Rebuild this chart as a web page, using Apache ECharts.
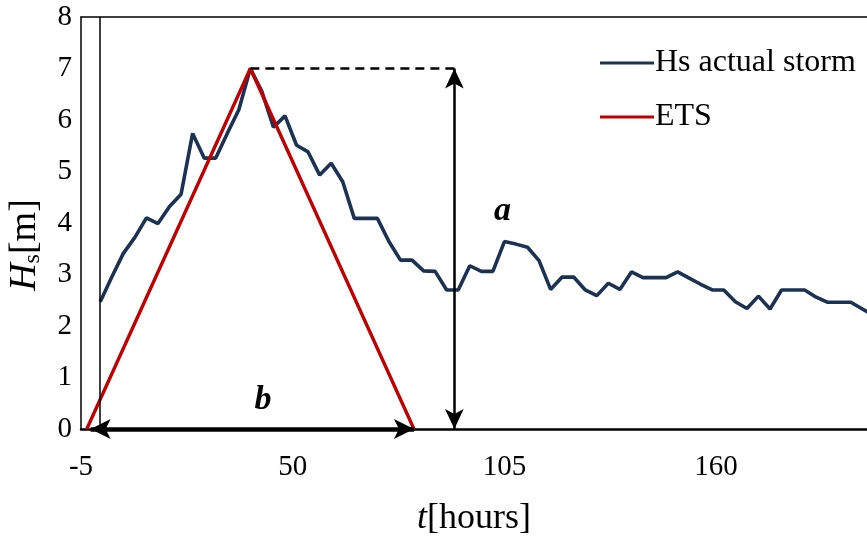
<!DOCTYPE html>
<html>
<head>
<meta charset="utf-8">
<script src="https://cdn.jsdelivr.net/npm/echarts@6/dist/echarts.min.js"></script>
<style>html,body{margin:0;padding:0;background:#fff}#c{width:867px;height:541px}</style>
</head>
<body>
<div id="c"></div>
<script>
// time in hours (3-hourly record)
const stormHours = [0,3,6,9,12,15,18,21,24,27,30,33,36,39,42,45,48,51,54,57,60,63,66,69,72,75,78,81,84,87,90,93,96,99,102,105,108,111,114,117,120,123,126,129,132,135,138,141,144,147,150,153,156,159,162,165,168,171,174,177,180,183,186,189,192,195,198,201];
const stormHs = [2.47,2.95,3.41,3.72,4.10,3.99,4.32,4.56,5.74,5.26,5.26,5.74,6.20,7.00,6.55,5.86,6.08,5.51,5.38,4.93,5.16,4.80,4.09,4.09,4.09,3.64,3.28,3.28,3.07,3.06,2.70,2.70,3.17,3.06,3.06,3.64,3.59,3.53,3.27,2.71,2.95,2.95,2.70,2.59,2.83,2.71,3.05,2.94,2.94,2.94,3.05,2.93,2.81,2.70,2.70,2.47,2.34,2.58,2.33,2.70,2.70,2.70,2.56,2.46,2.46,2.46,2.33,2.20];
const etsHours = [-3.5,39,81.5];
const etsHs = [0,7,0];
const xTickValues = [-5,50,105,160];
const yTicks = [0,1,2,3,4,5,6,7,8];
const peakHs = 7;
const peakHour = 39;
const aHour = 92;
const bStart = -2.5;
const bEnd = 81.5;

const font = 'Liberation Serif';
const chart = echarts.init(document.getElementById('c'), null, {renderer:'canvas'});
const storm = stormHours.map((t,i)=>[t,stormHs[i]]);
const ets = etsHours.map((t,i)=>[t,etsHs[i]]);

chart.setOption({
  animation:false,
  backgroundColor:'#fff',
  grid:{left:81,right:0,top:17,bottom:112,show:false,outerBoundsMode:'none',containLabel:false},
  legend:{
    data:['Hs actual storm','ETS'],
    orient:'vertical', left:595, top:42, itemGap:22,
    itemWidth:54, itemHeight:14,
    textStyle:{fontFamily:font,fontSize:32,color:'#000',padding:[0,0,0,-4]},
    icon:'path://M0,5.4 L54,5.4 L54,8.6 L0,8.6 Z'
  },
  xAxis:[{
    type:'value', min:-5, max:199.2,
    axisLine:{show:true,onZero:false,lineStyle:{color:'#000',width:2.5}},
    axisTick:{show:false}, splitLine:{show:false},
    axisLabel:{customValues:xTickValues, fontFamily:font,fontSize:29,color:'#000',margin:24},
    name:'{i|t}[hours]', nameLocation:'middle', nameGap:72,
    nameTextStyle:{fontFamily:font,fontSize:36,color:'#000',rich:{i:{fontFamily:font,fontStyle:'italic',fontSize:36,color:'#000'}}}
  },{
    type:'value', min:-5, max:199.2, position:'top',
    axisLine:{show:true,onZero:false,lineStyle:{color:'#000',width:1.5}},
    axisTick:{show:false}, splitLine:{show:false}, axisLabel:{show:false}
  }],
  yAxis:{
    type:'value', min:0, max:8, interval:1,
    axisLine:{show:true,onZero:false,lineStyle:{color:'#000',width:1.5}},
    axisTick:{show:false}, splitLine:{show:false},
    axisLabel:{fontFamily:font,fontSize:29,color:'#000',margin:9},
    name:'{i|H}{s|s}[m]', nameLocation:'middle', nameGap:36,
    nameTextStyle:{fontFamily:font,fontSize:38,color:'#000',padding:[0,0,0,-44],rich:{
      i:{fontFamily:font,fontStyle:'italic',fontSize:38,color:'#000'},
      s:{fontFamily:font,fontSize:24,color:'#000',verticalAlign:'bottom',padding:[16,0,0,0]}}}
  },
  series:[
    {name:'Hs actual storm', type:'line', data:storm, symbol:'none', clip:true,
     lineStyle:{color:'#1B3253',width:3.6}, itemStyle:{color:'#1B3253'}, z:3},
    {name:'ETS', type:'line', data:ets, symbol:'none',
     lineStyle:{color:'#C00000',width:3.4}, itemStyle:{color:'#C00000'}, z:4},
    {name:'annot', type:'line', data:[], symbol:'none', z:5,
     markLine:{
       silent:true, animation:false, symbol:['none','none'], label:{show:false},
       data:[
         [{coord:[0,0],lineStyle:{color:'#000',width:1.5,type:'solid'}},{coord:[0,8]}],
         [{coord:[peakHour,peakHs],lineStyle:{color:'#000',width:2.5,type:[9,6]}},{coord:[aHour,peakHs]}],
         [{coord:[aHour,0],symbol:'arrow',symbolSize:[14,20],lineStyle:{color:'#000',width:2.5,type:'solid'}},{coord:[aHour,peakHs],symbol:'arrow',symbolSize:[14,20]}],
         [{coord:[bStart,0],symbol:'arrow',symbolSize:[15,20],lineStyle:{color:'#000',width:4.5,type:'solid'}},{coord:[bEnd,0],symbol:'arrow',symbolSize:[15,20]}]
       ]
     },
     markPoint:{
       silent:true, symbol:'circle', symbolSize:1, itemStyle:{color:'rgba(0,0,0,0)'},
       label:{show:true,position:'inside',fontFamily:font,fontStyle:'italic',fontWeight:'bold',fontSize:34,color:'#000'},
       data:[
         {coord:[104.5,4.22],label:{formatter:'a'}},
         {coord:[42.3,0.55],label:{formatter:'b'}}
       ]
     }
    }
  ]
});
</script>
</body>
</html>
